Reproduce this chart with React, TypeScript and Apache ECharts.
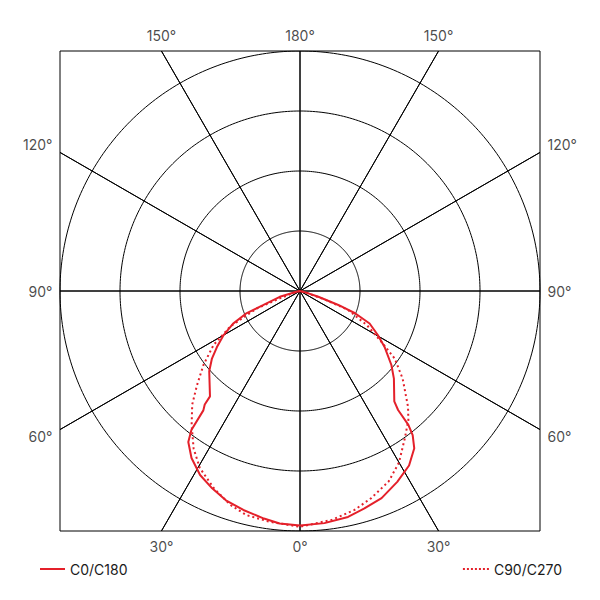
import React, { useEffect, useRef } from 'react';
import * as echarts from 'echarts';

// intensity scale: outer ring = 400
const MAX = 400;
const RINGS = [100, 200, 300, 400];
const SPOKE_ANGLES = [0, 30, 60, 90, 120, 150, 180, 210, 240, 270, 300, 330];

// [angle from nadir, intensity]
const C0 = [
  [0, 391], [6, 389], [12, 385], [16.5, 378], [21.5, 371], [27, 357], [32, 343],
  [36, 324], [38, 305], [39, 287], [39.5, 257], [40.5, 242], [47, 214], [51, 196],
  [56.5, 169], [60.5, 149], [65, 128], [68, 99], [70, 68], [72.5, 32], [76, 8], [90, 0],
];
const C180 = [
  [0, 391], [5, 389], [9, 384], [14.5, 377], [19.5, 370], [24, 360], [28.5, 349],
  [33, 332], [36.5, 313], [38, 294], [39, 256], [40, 247], [40.5, 231], [48.5, 202],
  [52.5, 185], [56, 167], [60, 147], [64, 124], [67.5, 96], [69, 66], [74, 35], [78, 6], [90, 0],
];
const C90 = [
  [0, 393], [8, 385], [14, 376], [19, 365], [25, 350], [30, 330], [35.5, 301],
  [40, 281], [43, 264], [49.5, 225], [54.5, 194], [58, 160], [63, 125], [68.5, 86],
  [71, 45], [75, 10], [90, 0],
];
const C270 = [
  [0, 393], [7.5, 388], [13.5, 384], [18, 375], [23.5, 359], [29.5, 339], [34, 317],
  [39, 287], [43.5, 261], [47.5, 233], [52.5, 203], [58, 170], [63, 131], [68, 78],
  [70, 36], [75, 8], [90, 0],
];

const FONT = 'Inter, "Noto Sans", sans-serif';
const RED = '#e4202a';
const TEXT = '#1a1a1a';

const SOLID_ICON = 'path://M0,0H25V2H0Z';
const DOTTED_ICON =
  'path://M0,0H2V2H0Z M4,0H6V2H4Z M8,0H10V2H8Z M12,0H14V2H12Z M16,0H18V2H16Z M20,0H22V2H20Z M24,0H26V2H24Z';

const toXY = (angle: number, value: number, side: number) => {
  const a = (angle * Math.PI) / 180;
  return [side * value * Math.sin(a), -value * Math.cos(a)];
};

// left half reversed (90 -> 0), then right half (0 -> 90)
const joinHalves = (left: number[][], right: number[][]) => [
  ...left.slice().reverse().map(([a, v]) => toXY(a, v, -1)),
  ...right.map(([a, v]) => toXY(a, v, 1)),
];

const circle = (r: number) => {
  const pts: number[][] = [];
  for (let a = 0; a <= 360; a += 1) pts.push(toXY(a, r, 1));
  return pts;
};

const spokeEnd = (angle: number) => {
  const a = (angle * Math.PI) / 180;
  const s = Math.sin(a);
  const c = Math.cos(a);
  const t = MAX / Math.max(Math.abs(s), Math.abs(c));
  return [t * s, -t * c];
};

export default function App() {
  const chartRef = useRef<HTMLDivElement>(null);

  useEffect(() => {
    document.body.style.margin = '0';
    if (!chartRef.current) return;
    const chart = echarts.init(chartRef.current, null, { renderer: 'svg' });

    const spokeData: (number[])[] = [];
    SPOKE_ANGLES.forEach((a) => {
      spokeData.push([0, 0], spokeEnd(a), [0, 0]);
    });

    const tickLabels = SPOKE_ANGLES.map((a) => {
      const [x, y] = spokeEnd(a);
      const rad = (a * Math.PI) / 180;
      const vertical = Math.abs(Math.cos(rad)) > Math.abs(Math.sin(rad)) + 1e-6;
      const position = vertical ? (y > 0 ? 'top' : 'bottom') : x < 0 ? 'left' : 'right';
      const dy = vertical || Math.abs(y) < 1 ? 0 : y > 0 ? -8 : 7;
      return {
        name: `${a <= 180 ? a : 360 - a}°`,
        value: [x, y],
        label: { position, distance: vertical ? 8 : 7, offset: [0, dy] },
      };
    });

    const ringSeries = RINGS.map((r) => ({
      type: 'line',
      data: circle(r),
      symbol: 'none',
      silent: true,
      z: 1,
      lineStyle: { color: '#000', width: 1 },
    }));

    const legendText = { fontFamily: FONT, fontSize: 14, color: TEXT };

    chart.setOption({
      animation: false,
      grid: {
        left: 60,
        top: 51,
        width: 480,
        height: 480,
        show: true,
        borderColor: '#000',
        borderWidth: 1,
        backgroundColor: 'transparent',
      },
      xAxis: { type: 'value', min: -MAX, max: MAX, show: false },
      yAxis: { type: 'value', min: -MAX, max: MAX, show: false },
      legend: [
        {
          data: [{ name: 'C0/C180', icon: SOLID_ICON }],
          left: 35,
          top: 557,
          itemWidth: 25,
          itemHeight: 2,
          itemStyle: { color: RED },
          textStyle: legendText,
        },
        {
          data: [{ name: 'C90/C270', icon: DOTTED_ICON }],
          right: 33,
          top: 557,
          itemWidth: 26,
          itemHeight: 2,
          itemStyle: { color: RED },
          textStyle: legendText,
        },
      ],
      series: [
        ...ringSeries,
        {
          type: 'line',
          data: spokeData,
          symbol: 'none',
          silent: true,
          z: 1,
          lineStyle: { color: '#000', width: 1 },
        },
        {
          type: 'scatter',
          data: tickLabels,
          symbolSize: 1,
          silent: true,
          itemStyle: { color: 'rgba(0,0,0,0)' },
          label: {
            show: true,
            formatter: '{b}',
            fontFamily: FONT,
            fontSize: 14,
            color: TEXT,
          },
        },
        {
          name: 'C0/C180',
          type: 'line',
          data: joinHalves(C180, C0),
          symbol: 'none',
          z: 3,
          lineStyle: { color: RED, width: 2 },
          itemStyle: { color: RED },
        },
        {
          name: 'C90/C270',
          type: 'line',
          data: joinHalves(C270, C90),
          symbol: 'none',
          z: 3,
          lineStyle: { color: RED, width: 2, type: [2, 3] },
          itemStyle: { color: RED },
        },
      ],
    });

    return () => {
      chart.dispose();
    };
  }, []);

  return <div ref={chartRef} style={{ width: '600px', height: '600px' }} />;
}
